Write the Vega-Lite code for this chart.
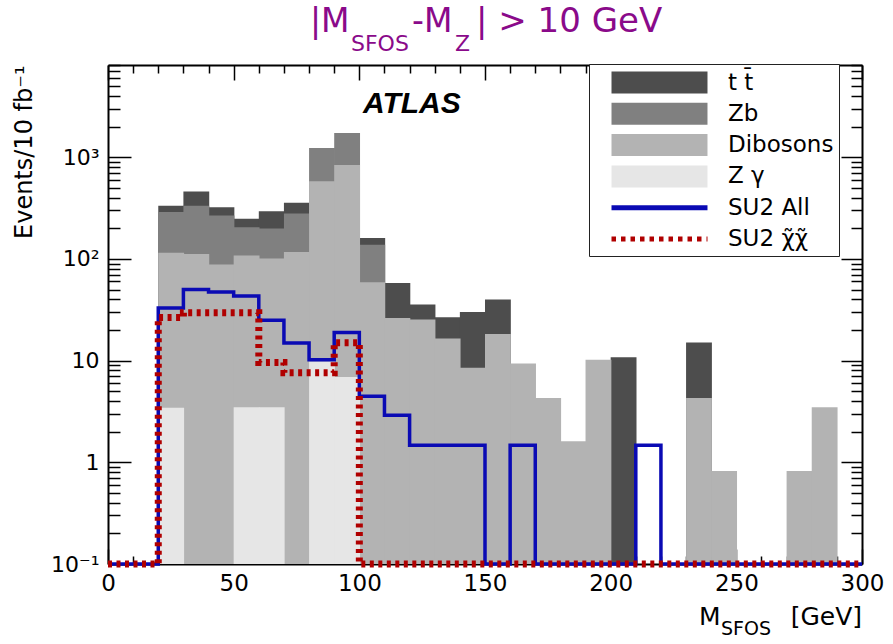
{
  "$schema": "https://vega.github.io/schema/vega-lite/v6.json",
  "width": 754,
  "height": 499,
  "autosize": {"type": "none"},
  "padding": {"left": 108, "top": 65, "right": 31, "bottom": 80},
  "background": "white",
  "config": {
    "font": "DejaVu Sans",
    "view": {"stroke": null},
    "axis": {
      "labelFont": "DejaVu Sans",
      "titleFont": "DejaVu Sans",
      "labelColor": "black",
      "titleColor": "black",
      "tickColor": "black",
      "domainColor": "black",
      "domainWidth": 2,
      "tickWidth": 1.5,
      "grid": false,
      "labelOverlap": false,
      "labelFlush": false
    },
    "legend": {
      "title": null,
      "orient": "none",
      "legendX": 481,
      "legendY": -1,
      "padding": 5,
      "fillColor": "white",
      "strokeColor": "#222222",
      "symbolSize": 484,
      "symbolStrokeWidth": 5,
      "symbolOpacity": 1,
      "labelFont": "DejaVu Sans",
      "labelFontSize": 23,
      "labelColor": "black",
      "labelOffset": 107,
      "labelLimit": 400,
      "rowPadding": 5.3
    }
  },
  "datasets": {
    "background": [
      {"lo": 20, "hi": 30, "process": "t t\u0304", "stack_top": 334},
      {"lo": 30, "hi": 40, "process": "t t\u0304", "stack_top": 459},
      {"lo": 40, "hi": 50, "process": "t t\u0304", "stack_top": 322},
      {"lo": 50, "hi": 60, "process": "t t\u0304", "stack_top": 249},
      {"lo": 60, "hi": 70, "process": "t t\u0304", "stack_top": 294},
      {"lo": 70, "hi": 80, "process": "t t\u0304", "stack_top": 356},
      {"lo": 100, "hi": 110, "process": "t t\u0304", "stack_top": 161},
      {"lo": 110, "hi": 120, "process": "t t\u0304", "stack_top": 58},
      {"lo": 120, "hi": 130, "process": "t t\u0304", "stack_top": 35.6},
      {"lo": 130, "hi": 140, "process": "t t\u0304", "stack_top": 26.7},
      {"lo": 140, "hi": 150, "process": "t t\u0304", "stack_top": 30.1},
      {"lo": 150, "hi": 160, "process": "t t\u0304", "stack_top": 39.8},
      {"lo": 200, "hi": 210, "process": "t t\u0304", "stack_top": 10.8},
      {"lo": 230, "hi": 240, "process": "t t\u0304", "stack_top": 15.1},
      {"lo": 20, "hi": 30, "process": "Zb", "stack_top": 290},
      {"lo": 30, "hi": 40, "process": "Zb", "stack_top": 334},
      {"lo": 40, "hi": 50, "process": "Zb", "stack_top": 268},
      {"lo": 50, "hi": 60, "process": "Zb", "stack_top": 205},
      {"lo": 60, "hi": 70, "process": "Zb", "stack_top": 199},
      {"lo": 70, "hi": 80, "process": "Zb", "stack_top": 279},
      {"lo": 80, "hi": 90, "process": "Zb", "stack_top": 1234},
      {"lo": 90, "hi": 100, "process": "Zb", "stack_top": 1734},
      {"lo": 100, "hi": 110, "process": "Zb", "stack_top": 138},
      {"lo": 20, "hi": 30, "process": "Dibosons", "stack_top": 115},
      {"lo": 30, "hi": 40, "process": "Dibosons", "stack_top": 112},
      {"lo": 40, "hi": 50, "process": "Dibosons", "stack_top": 88},
      {"lo": 50, "hi": 60, "process": "Dibosons", "stack_top": 108},
      {"lo": 60, "hi": 70, "process": "Dibosons", "stack_top": 101},
      {"lo": 70, "hi": 80, "process": "Dibosons", "stack_top": 117},
      {"lo": 80, "hi": 90, "process": "Dibosons", "stack_top": 580},
      {"lo": 90, "hi": 100, "process": "Dibosons", "stack_top": 840},
      {"lo": 100, "hi": 110, "process": "Dibosons", "stack_top": 58.9},
      {"lo": 110, "hi": 120, "process": "Dibosons", "stack_top": 26.3},
      {"lo": 120, "hi": 130, "process": "Dibosons", "stack_top": 25.3},
      {"lo": 130, "hi": 140, "process": "Dibosons", "stack_top": 16.5},
      {"lo": 140, "hi": 150, "process": "Dibosons", "stack_top": 8.5},
      {"lo": 150, "hi": 160, "process": "Dibosons", "stack_top": 18.3},
      {"lo": 160, "hi": 170, "process": "Dibosons", "stack_top": 9.35},
      {"lo": 170, "hi": 180, "process": "Dibosons", "stack_top": 4.3},
      {"lo": 180, "hi": 190, "process": "Dibosons", "stack_top": 1.61},
      {"lo": 190, "hi": 200, "process": "Dibosons", "stack_top": 10.2},
      {"lo": 230, "hi": 240, "process": "Dibosons", "stack_top": 4.3},
      {"lo": 240, "hi": 250, "process": "Dibosons", "stack_top": 0.82},
      {"lo": 270, "hi": 280, "process": "Dibosons", "stack_top": 0.82},
      {"lo": 280, "hi": 290, "process": "Dibosons", "stack_top": 3.47},
      {"lo": 20, "hi": 30, "process": "Z \u03b3", "stack_top": 3.43},
      {"lo": 50, "hi": 60, "process": "Z \u03b3", "stack_top": 3.47},
      {"lo": 60, "hi": 70, "process": "Z \u03b3", "stack_top": 3.47},
      {"lo": 80, "hi": 90, "process": "Z \u03b3", "stack_top": 9.8},
      {"lo": 90, "hi": 100, "process": "Z \u03b3", "stack_top": 6.9}
    ],
    "su2all": [
      {"m": 0, "events": 0.1}, {"m": 10, "events": 0.1}, {"m": 20, "events": 33},
      {"m": 30, "events": 49.9}, {"m": 40, "events": 47.3}, {"m": 50, "events": 43.2},
      {"m": 60, "events": 24.9}, {"m": 70, "events": 14.9}, {"m": 80, "events": 10.2},
      {"m": 90, "events": 18.9}, {"m": 100, "events": 4.45}, {"m": 110, "events": 2.9},
      {"m": 120, "events": 1.47}, {"m": 130, "events": 1.47}, {"m": 140, "events": 1.47},
      {"m": 150, "events": 0.1}, {"m": 160, "events": 1.47}, {"m": 170, "events": 0.1},
      {"m": 180, "events": 0.1}, {"m": 190, "events": 0.1}, {"m": 200, "events": 0.1},
      {"m": 210, "events": 1.47}, {"m": 220, "events": 0.1}, {"m": 230, "events": 0.1},
      {"m": 240, "events": 0.1}, {"m": 250, "events": 0.1}, {"m": 260, "events": 0.1},
      {"m": 270, "events": 0.1}, {"m": 280, "events": 0.1}, {"m": 290, "events": 0.1},
      {"m": 300, "events": 0.1}
    ],
    "su2chi": [
      {"m": 0, "events": 0.1}, {"m": 10, "events": 0.1}, {"m": 20, "events": 26.5},
      {"m": 30, "events": 29.6}, {"m": 40, "events": 29.6}, {"m": 50, "events": 29.6},
      {"m": 60, "events": 9.6}, {"m": 70, "events": 7.6}, {"m": 80, "events": 7.6},
      {"m": 90, "events": 15}, {"m": 100, "events": 0.1}, {"m": 110, "events": 0.1},
      {"m": 120, "events": 0.1}, {"m": 130, "events": 0.1}, {"m": 140, "events": 0.1},
      {"m": 150, "events": 0.1}, {"m": 160, "events": 0.1}, {"m": 170, "events": 0.1},
      {"m": 180, "events": 0.1}, {"m": 190, "events": 0.1}, {"m": 200, "events": 0.1},
      {"m": 210, "events": 0.1}, {"m": 220, "events": 0.1}, {"m": 230, "events": 0.1},
      {"m": 240, "events": 0.1}, {"m": 250, "events": 0.1}, {"m": 260, "events": 0.1},
      {"m": 270, "events": 0.1}, {"m": 280, "events": 0.1}, {"m": 290, "events": 0.1},
      {"m": 300, "events": 0.1}
    ]
  },
  "layer": [
    {
      "data": {"name": "background"},
      "mark": {"type": "rect", "x2Offset": 0.7},
      "encoding": {
        "x": {
          "field": "lo", "type": "quantitative",
          "scale": {"domain": [0, 300], "nice": false, "zero": false},
          "axis": {
            "orient": "bottom",
            "values": [0, 50, 100, 150, 200, 250, 300],
            "tickSize": -15,
            "labelPadding": 23,
            "labelFontSize": 23,
            "title": null
          }
        },
        "x2": {"field": "hi"},
        "y": {
          "field": "stack_top", "type": "quantitative",
          "scale": {"type": "log", "domain": [0.1, 8070], "nice": false},
          "axis": {
            "orient": "left",
            "values": [0.1, 1, 10, 100, 1000],
            "labelExpr": "datum.value === 0.1 ? '10\u207b\u00b9' : datum.value === 1 ? '1' : datum.value === 10 ? '10' : datum.value === 100 ? '10\u00b2' : '10\u00b3'",
            "tickSize": -23,
            "labelPadding": 32,
            "labelFontSize": 22,
            "title": "Events/10 fb\u207b\u00b9",
            "titleFontSize": 24,
            "titleFontWeight": "normal",
            "titleAnchor": "end",
            "titlePadding": 14
          }
        },
        "y2": {"datum": 0.1},
        "fill": {
          "field": "process", "type": "nominal",
          "scale": {
            "domain": ["t t\u0304", "Zb", "Dibosons", "Z \u03b3", "SU2 All", "SU2 \u03c7\u0303\u03c7\u0303"],
            "range": ["#4d4d4d", "#808080", "#b3b3b3", "#e6e6e6", "transparent", "transparent"]
          }
        }
      }
    },
    {
      "data": {"name": "su2all"},
      "mark": {"type": "line", "interpolate": "step-after", "color": "#0a0ab4", "strokeWidth": 3.5, "strokeCap": "butt"},
      "encoding": {
        "x": {
          "field": "m", "type": "quantitative",
          "axis": {"orient": "top", "values": [0, 50, 100, 150, 200, 250, 300], "labels": false, "tickSize": -15, "title": null}
        },
        "y": {
          "field": "events", "type": "quantitative",
          "axis": {"orient": "right", "values": [0.1, 1, 10, 100, 1000], "labels": false, "tickSize": -21, "title": null}
        }
      }
    },
    {
      "data": {"name": "su2chi"},
      "mark": {"type": "line", "interpolate": "step-after", "color": "#b00000", "strokeWidth": 7, "strokeDash": [4, 4.5], "strokeCap": "butt"},
      "encoding": {
        "x": {
          "field": "m", "type": "quantitative",
          "axis": {"orient": "bottom", "values": [10,20,30,40,60,70,80,90,110,120,130,140,160,170,180,190,210,220,230,240,260,270,280,290], "labels": false, "domain": false, "tickSize": -8, "title": null}
        },
        "y": {
          "field": "events", "type": "quantitative",
          "axis": {"orient": "left", "values": [0.2,0.3,0.4,0.5,0.6,0.7,0.8,0.9,2,3,4,5,6,7,8,9,20,30,40,50,60,70,80,90,200,300,400,500,600,700,800,900,2000,3000,4000,5000,6000,7000,8000], "labels": false, "domain": false, "tickSize": -12, "title": null}
        }
      }
    },
    {
      "data": {"name": "background"},
      "transform": [{"filter": "false"}],
      "mark": {"type": "point", "filled": true},
      "encoding": {
        "x": {"field": "lo", "type": "quantitative", "axis": null},
        "y": {"field": "stack_top", "type": "quantitative", "axis": null},
        "fill": {"field": "process", "type": "nominal"},
        "stroke": {
          "field": "process", "type": "nominal",
          "scale": {
            "domain": ["t t\u0304", "Zb", "Dibosons", "Z \u03b3", "SU2 All", "SU2 \u03c7\u0303\u03c7\u0303"],
            "range": ["", "", "", "", "#0a0ab4", "#b00000"]
          }
        },
        "shape": {
          "field": "process", "type": "nominal",
          "scale": {
            "domain": ["t t\u0304", "Zb", "Dibosons", "Z \u03b3", "SU2 All", "SU2 \u03c7\u0303\u03c7\u0303"],
            "range": ["M0.364,-1H9.09V1H0.364Z", "M0.364,-1H9.09V1H0.364Z", "M0.364,-1H9.09V1H0.364Z", "M0.364,-1H9.09V1H0.364Z", "M0.364,0H9.09", "M0.364,0H9.09"]
          }
        },
        "strokeDash": {
          "field": "process", "type": "nominal",
          "scale": {
            "domain": ["t t\u0304", "Zb", "Dibosons", "Z \u03b3", "SU2 All", "SU2 \u03c7\u0303\u03c7\u0303"],
            "range": [[1, 0], [1, 0], [1, 0], [1, 0], [1, 0], [4.5, 5]]
          }
        }
      }
    },
    {
      "data": {"values": [{}]},
      "mark": {"type": "text", "text": "ATLAS", "font": "Liberation Sans", "fontSize": 30, "fontWeight": "bold", "fontStyle": "italic", "color": "black", "align": "left", "baseline": "alphabetic"},
      "encoding": {
        "x": {
          "datum": 101.46, "type": "quantitative",
          "axis": {"orient": "top", "values": [10,20,30,40,60,70,80,90,110,120,130,140,160,170,180,190,210,220,230,240,260,270,280,290], "labels": false, "domain": false, "tickSize": -8, "title": null}
        },
        "y": {
          "datum": 2722, "type": "quantitative",
          "axis": {"orient": "right", "values": [0.2,0.3,0.4,0.5,0.6,0.7,0.8,0.9,2,3,4,5,6,7,8,9,20,30,40,50,60,70,80,90,200,300,400,500,600,700,800,900,2000,3000,4000,5000,6000,7000,8000], "labels": false, "domain": false, "tickSize": -11, "title": null}
        }
      }
    },
    {
      "data": {"values": [{}]},
      "mark": {"type": "text", "text": "|M", "font": "DejaVu Sans", "fontSize": 33, "color": "#8a0a8a", "align": "left", "baseline": "alphabetic"},
      "encoding": {
        "x": {"datum": 80.37, "type": "quantitative", "axis": null},
        "y": {"datum": 17040, "type": "quantitative", "axis": null}
      }
    },
    {
      "data": {"values": [{}]},
      "mark": {"type": "text", "text": "SFOS", "font": "DejaVu Sans", "fontSize": 22, "color": "#8a0a8a", "align": "left", "baseline": "alphabetic"},
      "encoding": {
        "x": {"datum": 96.68, "type": "quantitative", "axis": null},
        "y": {"datum": 11000, "type": "quantitative", "axis": null}
      }
    },
    {
      "data": {"values": [{}]},
      "mark": {"type": "text", "text": "-M", "font": "DejaVu Sans", "fontSize": 33, "color": "#8a0a8a", "align": "left", "baseline": "alphabetic"},
      "encoding": {
        "x": {"datum": 120.96, "type": "quantitative", "axis": null},
        "y": {"datum": 17040, "type": "quantitative", "axis": null}
      }
    },
    {
      "data": {"values": [{}]},
      "mark": {"type": "text", "text": "Z", "font": "DejaVu Sans", "fontSize": 22, "color": "#8a0a8a", "align": "left", "baseline": "alphabetic"},
      "encoding": {
        "x": {"datum": 138.07, "type": "quantitative", "axis": null},
        "y": {"datum": 11000, "type": "quantitative", "axis": null}
      }
    },
    {
      "data": {"values": [{}]},
      "mark": {"type": "text", "text": "| > 10 GeV", "font": "DejaVu Sans", "fontSize": 34, "color": "#8a0a8a", "align": "left", "baseline": "alphabetic"},
      "encoding": {
        "x": {"datum": 146.42, "type": "quantitative", "axis": null},
        "y": {"datum": 17040, "type": "quantitative", "axis": null}
      }
    },
    {
      "data": {"values": [{}]},
      "mark": {"type": "text", "text": "M", "font": "DejaVu Sans", "fontSize": 25, "color": "black", "align": "left", "baseline": "alphabetic"},
      "encoding": {
        "x": {"datum": 235.15, "type": "quantitative", "axis": null},
        "y": {"datum": 0.02516, "type": "quantitative", "axis": null}
      }
    },
    {
      "data": {"values": [{}]},
      "mark": {"type": "text", "text": "SFOS", "font": "DejaVu Sans", "fontSize": 19, "color": "black", "align": "left", "baseline": "alphabetic"},
      "encoding": {
        "x": {"datum": 243.9, "type": "quantitative", "axis": null},
        "y": {"datum": 0.02006, "type": "quantitative", "axis": null}
      }
    },
    {
      "data": {"values": [{}]},
      "mark": {"type": "text", "text": "[GeV]", "font": "DejaVu Sans", "fontSize": 25, "color": "black", "align": "right", "baseline": "alphabetic"},
      "encoding": {
        "x": {"datum": 300, "type": "quantitative", "axis": null},
        "y": {"datum": 0.02516, "type": "quantitative", "axis": null}
      }
    }
  ],
  "resolve": {
    "axis": {"x": "independent", "y": "independent"}
  }
}
